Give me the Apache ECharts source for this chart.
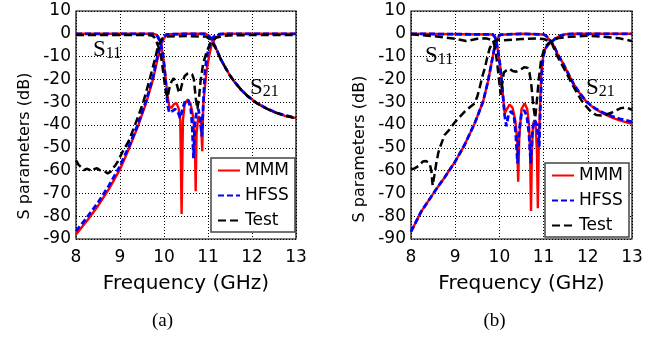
<!DOCTYPE html>
<html>
<head>
<meta charset="utf-8">
<script src="https://cdn.jsdelivr.net/npm/echarts@6/dist/echarts.min.js"></script>
<style>
html,body{margin:0;padding:0;background:#fff;}
#chart{width:657px;height:337px;}
</style>
</head>
<body>
<div id="chart"></div>
<script>
// ---------- Data (frequency in GHz, S in dB) ----------
const legendNames = ['MMM', 'HFSS', 'Test'];

// (a)
const aMmmS21F = [8.0, 8.25, 8.5, 8.75, 9.0, 9.2, 9.4, 9.6, 9.75, 9.87, 9.95, 10.0, 10.05, 10.1, 10.5, 10.95, 11.0, 11.05, 11.1, 11.16, 11.22, 11.3, 11.4, 11.5, 11.6, 11.75, 11.9, 12.1, 12.3, 12.5, 12.75, 13.0];
const aMmmS21 = [-88, -82, -75.5, -68, -59.5, -50.5, -41, -30, -20, -9.5, -4, -2, -0.8, -0.2, 0, 0, -0.6, -1.5, -3.2, -5.5, -8, -11.5, -15, -18.3, -21, -24.5, -27.3, -30.3, -32.5, -34.3, -36, -37];

const aHfssS21F = [8.0, 8.25, 8.5, 8.75, 9.0, 9.2, 9.4, 9.6, 9.75, 9.85, 9.93, 10.0, 10.05, 10.5, 10.95, 11.0, 11.05, 11.1, 11.16, 11.22, 11.3, 11.4, 11.5, 11.6, 11.75, 11.9, 12.1, 12.3, 12.5, 12.75, 13.0];
const aHfssS21 = [-86.5, -80.5, -74, -66.5, -58, -49.5, -40, -29, -19, -10, -4, -1.2, -0.3, 0, 0, -0.6, -1.5, -3.2, -5.5, -8, -11.5, -15, -18.3, -21, -24.5, -27.3, -30.3, -32.4, -34.2, -35.8, -36.7];

const aTestS21F = [8.0, 8.06, 8.12, 8.18, 8.24, 8.3, 8.36, 8.42, 8.48, 8.54, 8.6, 8.66, 8.72, 8.78, 8.84, 8.9, 8.95, 9.06, 9.2, 9.34, 9.53, 9.68, 9.8, 9.87, 9.95, 10.05, 10.5, 10.95, 11.0, 11.05, 11.1, 11.16, 11.22, 11.3, 11.4, 11.5, 11.6, 11.75, 11.9, 12.1, 12.3, 12.5, 12.75, 13.0];
const aTestS21 = [-55.5, -57.5, -58.5, -59.8, -59.2, -59.6, -60.3, -59.3, -59, -59.8, -60.2, -60.5, -61.2, -60.6, -59, -57.5, -56, -51.7, -47, -40, -30, -19.5, -10.7, -5, -2.2, -1.2, -1, -1.2, -1.8, -2.6, -3.8, -5.8, -8.2, -11.6, -15, -18.3, -21, -24.5, -27.3, -30.3, -32.5, -34.3, -36, -37];

const aMmmS11F = [8.0, 9.75, 9.82, 9.87, 9.91, 9.95, 10.0, 10.04, 10.08, 10.12, 10.17, 10.22, 10.28, 10.33, 10.37, 10.4, 10.43, 10.47, 10.53, 10.6, 10.65, 10.7, 10.72, 10.74, 10.78, 10.81, 10.84, 10.87, 10.89, 10.93, 10.97, 11.03, 11.08, 11.16, 11.27, 11.4, 13.0];
const aMmmS11 = [0, 0, -0.4, -1.3, -3, -6.4, -13, -20, -27, -32, -32.5, -31, -30.3, -32.5, -38, -79, -38, -31, -29, -30.5, -35, -44, -69, -44, -36, -35.5, -39, -51.5, -32, -23, -16, -9.3, -5, -2, -0.3, 0, 0];

const aHfssS11F = [8.0, 9.75, 9.8, 9.85, 9.9, 9.94, 9.98, 10.02, 10.05, 10.08, 10.12, 10.18, 10.25, 10.31, 10.37, 10.42, 10.48, 10.55, 10.61, 10.64, 10.67, 10.7, 10.74, 10.78, 10.82, 10.86, 10.89, 10.93, 10.98, 11.05, 11.12, 11.2, 11.3, 13.0];
const aHfssS11 = [0, 0, -0.3, -1, -3, -5.5, -9.3, -17, -24, -31, -34.5, -34, -33, -34, -37, -33, -29.5, -29, -33, -40, -54.6, -40, -34, -33, -37, -45, -32, -16.6, -9.3, -4.2, -1.5, -0.3, 0, 0];

const aTestS11F = [8.0, 9.6, 9.72, 9.78, 9.83, 9.87, 9.91, 9.95, 9.98, 10.01, 10.04, 10.08, 10.12, 10.17, 10.22, 10.28, 10.33, 10.36, 10.41, 10.47, 10.53, 10.59, 10.64, 10.68, 10.72, 10.76, 10.8, 10.83, 10.89, 10.97, 11.05, 11.12, 11.2, 11.35, 11.6, 13.0];
const aTestS11 = [-0.5, -0.5, -0.7, -1.5, -3.5, -5.5, -7.9, -12, -16.6, -21, -25.5, -28, -24, -21, -19.5, -21.5, -25, -26, -22, -18.5, -17.5, -17.2, -17.8, -20, -28, -33, -27, -21, -13, -7.9, -4.2, -2.5, -1.6, -0.9, -0.6, -0.5];

// (b)
const bMmmS21F = [8.0, 8.23, 8.53, 8.76, 9.0, 9.21, 9.44, 9.63, 9.74, 9.82, 9.89, 9.93, 9.97, 10.02, 10.5, 11.0, 11.05, 11.1, 11.18, 11.25, 11.32, 11.44, 11.55, 11.67, 11.8, 11.97, 12.15, 12.34, 12.55, 12.72, 13.0];
const bMmmS21 = [-86.8, -78, -69.3, -63, -56, -48.8, -39.3, -29.8, -21, -13, -6, -3.5, -1.5, -0.4, 0, -0.3, -0.8, -1.8, -3.8, -6, -9, -13, -17.2, -21.7, -25.6, -29.8, -32.7, -34.9, -36.8, -38, -39.5];

const bHfssS21F = [8.0, 8.23, 8.53, 8.76, 9.0, 9.21, 9.44, 9.63, 9.74, 9.82, 9.89, 9.93, 9.97, 10.02, 10.5, 11.0, 11.05, 11.1, 11.18, 11.25, 11.32, 11.44, 11.55, 11.67, 11.8, 11.97, 12.15, 12.34, 12.55, 12.72, 13.0];
const bHfssS21 = [-86.8, -78, -69.3, -63, -56, -48.8, -39.3, -29.8, -21, -13, -6, -3.5, -1.5, -0.4, 0, -0.3, -0.8, -1.8, -3.8, -6, -9, -13, -17.2, -21.7, -25.6, -29.8, -32.5, -34.5, -36.2, -37.3, -38.6];

const bTestS21F = [8.0, 8.08, 8.17, 8.27, 8.34, 8.42, 8.46, 8.49, 8.53, 8.57, 8.62, 8.68, 8.76, 8.87, 9.0, 9.1, 9.21, 9.33, 9.44, 9.5, 9.55, 9.61, 9.67, 9.73, 9.78, 9.86, 9.95, 10.1, 10.5, 10.85, 11.0, 11.1, 11.18, 11.29, 11.4, 11.52, 11.63, 11.74, 11.85, 11.97, 12.08, 12.19, 12.3, 12.42, 12.55, 12.65, 12.75, 12.87, 13.0];
const bTestS21 = [-59.5, -59, -58, -56, -55.8, -56.8, -60, -66.5, -62, -57, -52, -48.5, -44.4, -42, -38.6, -36.5, -34.2, -32.2, -30.5, -27.5, -24, -19, -15.1, -10, -6.4, -3.5, -2.6, -2.8, -2.3, -2, -2.3, -3, -3.8, -9, -13, -17.3, -21.5, -25.4, -29, -32, -34.3, -35.6, -35.8, -35.4, -34.5, -33.5, -32.6, -32.3, -33.3];

const bMmmS11F = [8.0, 9.85, 9.9, 9.93, 9.97, 10.01, 10.05, 10.08, 10.12, 10.17, 10.23, 10.3, 10.36, 10.4, 10.425, 10.45, 10.5, 10.57, 10.63, 10.67, 10.695, 10.715, 10.735, 10.76, 10.79, 10.82, 10.85, 10.87, 10.89, 10.92, 10.95, 10.99, 11.04, 11.1, 11.18, 11.27, 11.38, 11.5, 11.7, 13.0];
const bMmmS11 = [0, -0.3, -1.5, -3.5, -7.5, -13, -20, -27, -35, -33, -31, -32.5, -38, -46, -64.9, -45, -33, -30.5, -33, -40, -52, -77.7, -52, -40, -37.8, -40, -52, -76.5, -50, -31, -17, -10, -6.5, -4.8, -3.6, -2, -0.8, -0.2, 0, 0];

const bHfssS11F = [8.0, 9.85, 9.9, 9.93, 9.97, 10.01, 10.05, 10.08, 10.12, 10.16, 10.21, 10.27, 10.33, 10.37, 10.41, 10.45, 10.5, 10.56, 10.62, 10.67, 10.71, 10.75, 10.8, 10.85, 10.9, 10.93, 10.96, 10.99, 11.04, 11.1, 11.18, 11.27, 11.38, 11.5, 11.7, 13.0];
const bHfssS11 = [0, -0.3, -1.5, -3.5, -7.5, -13, -20, -27, -36, -40.5, -35, -34, -36, -44, -56.8, -42, -35, -33.5, -36, -44, -56.8, -42, -37.8, -40, -49.5, -30, -17, -10, -6.5, -4.8, -3.6, -2, -0.8, -0.2, 0, 0];

const bTestS11F = [8.0, 8.5, 9.0, 9.25, 9.5, 9.7, 9.82, 9.87, 9.91, 9.95, 9.99, 10.03, 10.06, 10.1, 10.16, 10.23, 10.3, 10.38, 10.47, 10.57, 10.64, 10.68, 10.72, 10.77, 10.81, 10.85, 10.89, 10.94, 11.0, 11.06, 11.12, 11.21, 11.35, 11.59, 12.0, 12.34, 12.72, 13.0];
const bTestS11 = [-0.2, -1, -2.2, -3.2, -2.2, -2, -2.7, -4, -7, -13, -20, -26.8, -22, -17, -16, -15.3, -16.3, -16.6, -15.8, -14.6, -15, -17, -22, -32, -37, -29, -20, -12, -7.5, -5.2, -4, -2.7, -1.8, -1.3, -0.9, -1.3, -2, -3.2];

// ---------- Chart ----------
const FONT = 'DejaVu Sans';
const SERIF = 'Liberation Serif';
const pairs = (f, d) => f.map((x, i) => [x, d[i]]);

const styles = {
  MMM:  { color: '#ff0000', width: 2.4, type: 'solid' },
  HFSS: { color: '#0000ff', width: 2.8, type: [6, 3] },
  Test: { color: '#000000', width: 2.5, type: [8, 4] }
};

function mk(name, idx, f, d) {
  const s = styles[name];
  return {
    name: name, type: 'line', xAxisIndex: idx, yAxisIndex: idx,
    data: pairs(f, d), symbol: 'none', smooth: false, silent: true,
    lineStyle: { color: s.color, width: s.width, type: s.type },
    itemStyle: { color: s.color }
  };
}

function xAx(idx) {
  return {
    gridIndex: idx, type: 'value', min: 8, max: 13, interval: 1,
    axisLine: { show: false }, axisTick: { show: false },
    splitLine: { show: true, lineStyle: { color: '#000', width: 1, type: [1, 2] } },
    axisLabel: { fontSize: 17, color: '#000', fontFamily: FONT, margin: 10 },
    name: 'Frequency (GHz)', nameLocation: 'middle', nameGap: 35,
    nameTextStyle: { fontSize: 20, color: '#000', fontFamily: FONT }
  };
}
function yAx(idx) {
  return {
    gridIndex: idx, type: 'value', min: -90, max: 10, interval: 10,
    axisLine: { show: false }, axisTick: { show: false },
    splitLine: { show: true, lineStyle: { color: '#000', width: 1, type: [1, 2] } },
    axisLabel: { fontSize: 17, color: '#000', fontFamily: FONT, margin: 5 }
  };
}
function legendAt(left, top) {
  return {
    data: legendNames, left: left, top: top, orient: 'vertical',
    itemWidth: 22, itemHeight: 14, itemGap: 8, padding: [4, 6, 3, 6],
    borderColor: '#444', borderWidth: 1.5, backgroundColor: '#fff',
    selectedMode: false,
    itemStyle: { opacity: 0 },
    textStyle: { fontSize: 17, color: '#000', fontFamily: FONT, lineHeight: 17 }
  };
}
function sLabel(x, y, sub) {
  return {
    type: 'text', x: x, y: y, silent: true, z: 100,
    style: {
      text: '{s|S}{b|' + sub + '}', fill: '#000',
      verticalAlign: 'middle', align: 'left',
      rich: {
        s: { fontSize: 23, fontFamily: SERIF, lineHeight: 24, fill: '#000' },
        b: { fontSize: 16, fontFamily: SERIF, lineHeight: 13, verticalAlign: 'bottom', fill: '#000' }
      }
    }
  };
}
function yName(x, y) {
  return {
    type: 'text', x: x, y: y, rotation: Math.PI / 2, silent: true,
    style: { text: 'S parameters (dB)', fontSize: 16, fontFamily: FONT, fill: '#000', align: 'center', verticalAlign: 'middle' }
  };
}
function caption(x, y, t) {
  return {
    type: 'text', x: x, y: y, silent: true,
    style: { text: t, fontSize: 19, fontFamily: SERIF, fill: '#000', align: 'center', verticalAlign: 'middle' }
  };
}

const chart = echarts.init(document.getElementById('chart'), null, { renderer: 'canvas' });
chart.setOption({
  animation: false,
  backgroundColor: '#fff',
  grid: [
    { left: 76, top: 11, width: 220, height: 228, show: true, borderColor: '#000', borderWidth: 1.2, backgroundColor: 'transparent' },
    { left: 411, top: 11, width: 221, height: 228, show: true, borderColor: '#000', borderWidth: 1.2, backgroundColor: 'transparent' }
  ],
  xAxis: [xAx(0), xAx(1)],
  yAxis: [yAx(0), yAx(1)],
  legend: [legendAt(211, 158), legendAt(545, 163)],
  series: [
    mk('MMM', 0, aMmmS11F, aMmmS11),
    mk('MMM', 0, aMmmS21F, aMmmS21),
    mk('HFSS', 0, aHfssS11F, aHfssS11),
    mk('HFSS', 0, aHfssS21F, aHfssS21),
    mk('Test', 0, aTestS11F, aTestS11),
    mk('Test', 0, aTestS21F, aTestS21),
    mk('MMM', 1, bMmmS11F, bMmmS11),
    mk('MMM', 1, bMmmS21F, bMmmS21),
    mk('HFSS', 1, bHfssS11F, bHfssS11),
    mk('HFSS', 1, bHfssS21F, bHfssS21),
    mk('Test', 1, bTestS11F, bTestS11),
    mk('Test', 1, bTestS21F, bTestS21)
  ],
  graphic: [
    yName(25, 146), yName(360, 149),
    sLabel(93, 50, '11'), sLabel(250, 88, '21'),
    sLabel(425, 56, '11'), sLabel(586, 88, '21'),
    caption(162.5, 321.5, '(a)'), caption(494.5, 321.5, '(b)')
  ]
});
</script>
</body>
</html>
